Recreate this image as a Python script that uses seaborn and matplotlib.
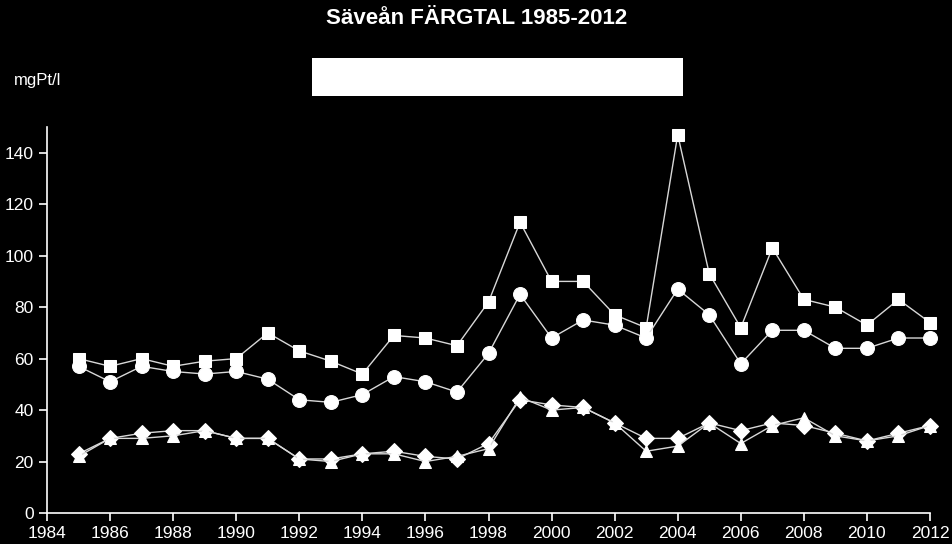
import numpy as np
import pandas as pd
import matplotlib
matplotlib.use("Agg")
import matplotlib.pyplot as plt
import seaborn as sns
from matplotlib.patches import Rectangle

years = list(range(1985, 2013))

squares = [60, 57, 60, 57, 59, 60, 70, 63, 59, 54, 69, 68, 65, 82, 113, 90, 90, 77, 72, 147,
           93, 72, 103, 83, 80, 73, 83, 74]
circles = [57, 51, 57, 55, 54, 55, 52, 44, 43, 46, 53, 51, 47, 62, 85, 68, 75, 73, 68, 87,
           77, 58, 71, 71, 64, 64, 68, 68]
diamonds = [23, 29, 31, 32, 32, 29, 29, 21, 21, 23, 24, 22, 21, 27, 44, 42, 41, 35, 29, 29,
            35, 32, 35, 34, 31, 28, 31, 34]
triangles = [22, 29, 29, 30, 32, 29, 29, 21, 20, 23, 23, 20, 22, 25, 45, 40, 41, 35, 24, 26,
             35, 27, 34, 37, 30, 28, 30, 34]

xticks = list(range(1984, 2013, 2))
yticks = list(range(0, 141, 20))

series = {"s": squares, "o": circles, "D": diamonds, "^": triangles}
msize = {"s": 8.5, "o": 10, "D": 8.5, "^": 9}

df = pd.concat([pd.DataFrame({"year": years, "value": v, "series": k}) for k, v in series.items()])

sns.set_style("dark")
plt.rcParams["font.family"] = ["Liberation Sans", "DejaVu Sans"]

fig = plt.figure(figsize=(9.53, 5.44), dpi=100, facecolor="black")
ax = fig.add_axes([47 / 953, 31 / 544, 883 / 953, 386 / 544])
ax.set_facecolor("black")

for k in series:
    sub = df[df["series"] == k]
    sns.lineplot(data=sub, x="year", y="value", ax=ax, color="#d8d8d8", linewidth=1,
                 marker=k, markersize=msize[k], markerfacecolor="white",
                 markeredgecolor="white", legend=False, clip_on=False)

ax.set_xlim(1984, 2012)
ax.set_ylim(0, 150)
ax.set_xticks(xticks)
ax.set_yticks(yticks)
ax.grid(False)
ax.set_xlabel("")
ax.set_ylabel("")
for side in ["top", "right"]:
    ax.spines[side].set_visible(False)
for side in ["left", "bottom"]:
    ax.spines[side].set_visible(True)
    ax.spines[side].set_color("white")
    ax.spines[side].set_linewidth(1.2)
ax.tick_params(colors="white", labelsize=12.5, length=6, width=1.2, direction="out",
               bottom=True, left=True)

fig.text(0.5, 1 - 18 / 544, "Säveån FÄRGTAL 1985-2012", color="white", fontsize=16,
         fontweight="bold", ha="center", va="center")
fig.text(14 / 953, 1 - 80 / 544, "mgPt/l", color="white", fontsize=12, ha="left", va="center")
fig.patches.append(Rectangle((312 / 953, 1 - 96 / 544), 371 / 953, 38 / 544,
                             transform=fig.transFigure, facecolor="white", edgecolor="none"))

fig.savefig("out.png", dpi=100, facecolor="black")
